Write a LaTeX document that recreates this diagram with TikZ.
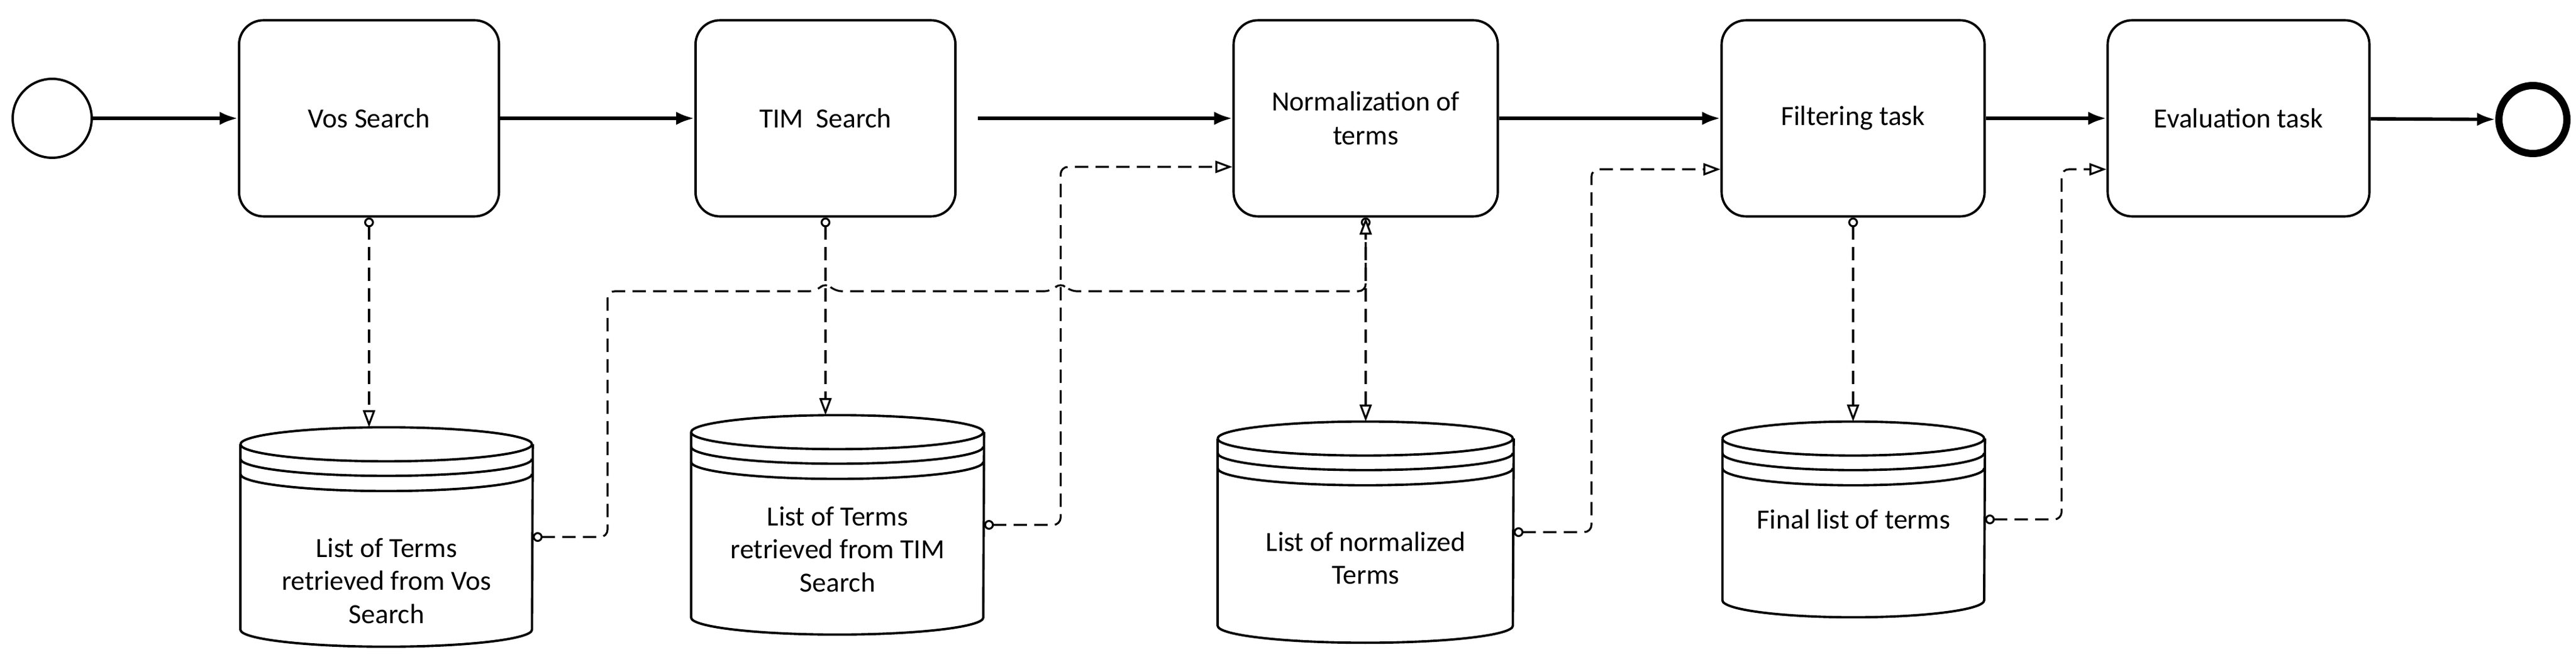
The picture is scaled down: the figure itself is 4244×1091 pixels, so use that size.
\documentclass[tikz,border=0pt]{standalone}
\usepackage{fontspec}
\setmainfont{Carlito}
\usetikzlibrary{arrows.meta, positioning, calc}
\tikzstyle{task} = [rectangle, rounded corners=0.4cm, minimum width=4.28cm, minimum height=3.23cm, text centered, draw=black, line width=1.1pt, align=center, font=\fontsize{13}{16}\selectfont]
\tikzstyle{store} = [rectangle, draw=none, minimum width=4.8cm, minimum height=3.6cm]
\tikzstyle{flow} = [line width=1.6pt, -{Latex[length=0.3cm, width=0.22cm]}]
\tikzstyle{assoc} = [line width=0.9pt, dash pattern=on 0.22cm off 0.12cm, rounded corners=0.12cm, {Circle[open, fill=white, length=0.16cm, width=0.16cm]}-{Triangle[open, fill=white, length=0.28cm, width=0.2cm]}]
% cylinder around a store node: name, x radius
\newcommand{\dbshape}[2]{%
  \draw[line width=1.1pt] ([yshift=-0.28cm]#1.north west) arc[start angle=180, end angle=-180, x radius=#2, y radius=0.28cm];
  \draw[line width=1.1pt] ([yshift=-0.52cm]#1.north west) arc[start angle=180, end angle=360, x radius=#2, y radius=0.28cm];
  \draw[line width=1.1pt] ([yshift=-0.77cm]#1.north west) arc[start angle=180, end angle=360, x radius=#2, y radius=0.28cm];
  \draw[line width=1.1pt] ([yshift=-0.28cm]#1.north west) -- ([yshift=0.28cm]#1.south west) arc[start angle=180, end angle=360, x radius=#2, y radius=0.28cm] -- ([yshift=-0.28cm]#1.north east);
}

\begin{document}
\begin{tikzpicture}[x=0.01cm, y=-0.01cm]
        \tikzstyle{dbtext} = [align=center, font=\fontsize{13}{15.5}\selectfont]
        \useasboundingbox (0,0) rectangle (4244,1091);

        \node[circle, draw, line width=1.1pt, minimum size=1.3cm] (start) at (86,195) {};
        \node[task] (vosBox) at (608,195) {Vos Search};
        \node[task] (timBox) at (1360,195) {TIM\ \ Search};
        \node[task, minimum width=4.35cm] (normBox) at (2250,195) {Normalization of\\terms};
        \node[task, minimum width=4.33cm] (filtBox) at (3053,195) {Filtering task};
        \node[task, minimum width=4.31cm] (evalBox) at (3688,195) {Evaluation task};
        \node[circle, draw, line width=3.4pt, minimum size=1.12cm] (finish) at (4173,197) {};

        \node[store, label={[dbtext, yshift=-0.72cm]center:{List of Terms\\retrieved from Vos\\Search}}] (vosDB) at (637,885) {};
        \node[store, minimum width=4.81cm, label={[dbtext, yshift=-0.4cm]center:{List of Terms\\retrieved from TIM\\Search}}] (timDB) at (1380,865) {};
        \node[store, minimum width=4.86cm, minimum height=3.63cm, label={[dbtext, yshift=-0.43cm]center:{List of normalized\\Terms}}] (normDB) at (2250,877) {};
        \node[store, minimum width=4.31cm, minimum height=3.21cm, label={[dbtext]center:{Final list of terms}}] (finalDB) at (3054,856) {};
        \dbshape{vosDB}{2.4cm}
        \dbshape{timDB}{2.405cm}
        \dbshape{normDB}{2.43cm}
        \dbshape{finalDB}{2.155cm}

        \draw[flow] (start) -- (vosBox);
        \draw[flow] (vosBox) -- (timBox);
        \draw[flow] ([xshift=0.35cm]timBox.east) -- (normBox);
        \draw[flow] (normBox) -- (filtBox);
        \draw[flow] (filtBox) -- (evalBox);
        \draw[flow] (evalBox) -- (finish);

        \coordinate (hopline) at (0,480);
        \draw[assoc] (vosBox.south) -- (vosBox.south |- vosDB.north);
        \draw[assoc] (timBox.south) -- (timBox.south |- timDB.north);
        \draw[assoc] (normBox.south) -- (normBox.south |- normDB.north);
        \draw[assoc] (filtBox.south) -- (filtBox.south |- finalDB.north);
        \draw[assoc] (vosDB.east) -- ([xshift=1.23cm]vosDB.east) |- ([xshift=-0.15cm]timBox.south |- hopline) -- ++(15,-15) -- ++(15,15)
            -- ([xshift=1.11cm]timDB.east |- hopline) -- ++(15,-15) -- ++(15,15) -| (normBox.south);
        \draw[assoc] (timDB.east) -- ([xshift=1.26cm]timDB.east) |- ([yshift=-0.8cm]normBox.west);
        \draw[assoc] (normDB.east) -- ([xshift=1.28cm]normDB.east) |- ([yshift=-0.84cm]filtBox.west);
        \draw[assoc] (finalDB.east) -- ([xshift=1.26cm]finalDB.east) |- ([yshift=-0.84cm]evalBox.west);

    \end{tikzpicture}
\end{document}
